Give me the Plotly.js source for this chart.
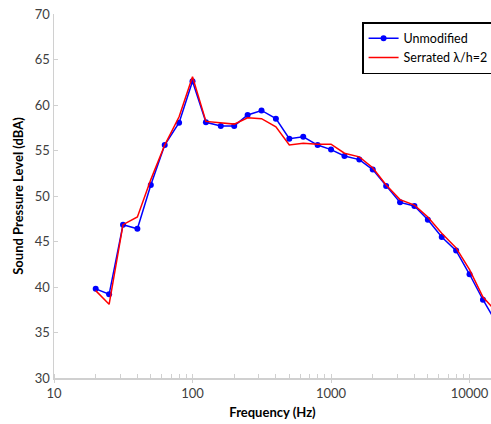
<!DOCTYPE html>
<html>
<head>
<meta charset="utf-8">
<script src="https://cdn.plot.ly/plotly-3.0.1.min.js"></script>
<style>
html,body{margin:0;padding:0;background:#fff;}
#chart{width:491px;height:424px;}
</style>
</head>
<body>
<div id="chart"></div>
<script>
const freqs = [20, 25, 31.5, 40, 50, 63, 80, 100, 125, 160, 200, 250, 315, 400, 500, 630, 800, 1000, 1250, 1600, 2000, 2500, 3150, 4000, 5000, 6300, 8000, 10000, 12500, 16000];
const unmodified = [39.8, 39.2, 46.85, 46.4, 51.2, 55.6, 58.05, 62.6, 58.1, 57.7, 57.7, 58.9, 59.4, 58.5, 56.3, 56.5, 55.6, 55.1, 54.4, 54.0, 52.9, 51.1, 49.3, 48.9, 47.4, 45.5, 44.0, 41.4, 38.6, 35.8];
const serrated = [39.6, 38.1, 46.85, 47.7, 51.8, 55.6, 58.7, 63.1, 58.2, 58.0, 57.9, 58.6, 58.5, 57.6, 55.6, 55.8, 55.7, 55.7, 54.7, 54.3, 53.1, 51.2, 49.6, 49.0, 47.7, 45.9, 44.3, 41.9, 38.9, 37.1];
const seriesNames = ["Unmodified", "Serrated \u03bb/h=2"];
const yTicks = [30, 35, 40, 45, 50, 55, 60, 65, 70];
const xTicks = [10, 100, 1000, 10000];

const font = "Lato, 'Open Sans', 'Liberation Sans', sans-serif";

const traces = [
  {
    x: freqs, y: unmodified, name: seriesNames[0], type: "scatter", mode: "lines+markers",
    line: {color: "#0000ff", width: 1.5},
    marker: {color: "#0000ff", size: 6, symbol: "circle"},
    cliponaxis: true
  },
  {
    x: freqs, y: serrated, name: seriesNames[1], type: "scatter", mode: "lines",
    line: {color: "#ff0000", width: 1.5},
    cliponaxis: true
  }
];

const layout = {
  width: 491, height: 424,
  margin: {l: 54, r: 0, t: 14, b: 46, autoexpand: false},
  paper_bgcolor: "#ffffff", plot_bgcolor: "#ffffff",
  font: {family: font, size: 13, color: "#404040"},
  showlegend: true,
  legend: {
    x: 0.705, y: 0.978, xanchor: "left", yanchor: "top",
    bordercolor: "#000000", borderwidth: 1.5, bgcolor: "#ffffff",
    font: {family: font, size: 12.5, color: "#000000"},
    tracegroupgap: 0, itemwidth: 30
  },
  xaxis: {
    type: "log",
    range: [1, 4.155],
    automargin: false,
    tickvals: xTicks, ticktext: xTicks.map(String),
    ticks: "outside", ticklen: 3, tickcolor: "#d0d0d0",
    minor: {ticks: "inside", ticklen: 4, tickcolor: "#d0d0d0", dtick: "D1", showgrid: false},
    showline: true, linecolor: "#d0d0d0", linewidth: 1.5,
    showgrid: false, zeroline: false,
    tickfont: {family: font, size: 13, color: "#404040"},
    title: {text: "<b>Frequency (Hz)</b>", font: {family: font, size: 13, color: "#000000"}, standoff: 8}
  },
  yaxis: {
    range: [30, 70],
    automargin: false,
    tickvals: yTicks,
    ticks: "inside", ticklen: 4, tickcolor: "#d0d0d0",
    showline: true, linecolor: "#d0d0d0", linewidth: 1.5,
    showgrid: false, zeroline: false,
    tickfont: {family: font, size: 13, color: "#404040"},
    title: {text: "<b>Sound Pressure Level (dBA)</b>", font: {family: font, size: 13, color: "#000000"}, standoff: 8}
  }
};

Plotly.newPlot("chart", traces, layout, {displayModeBar: false, staticPlot: true});
</script>
</body>
</html>
